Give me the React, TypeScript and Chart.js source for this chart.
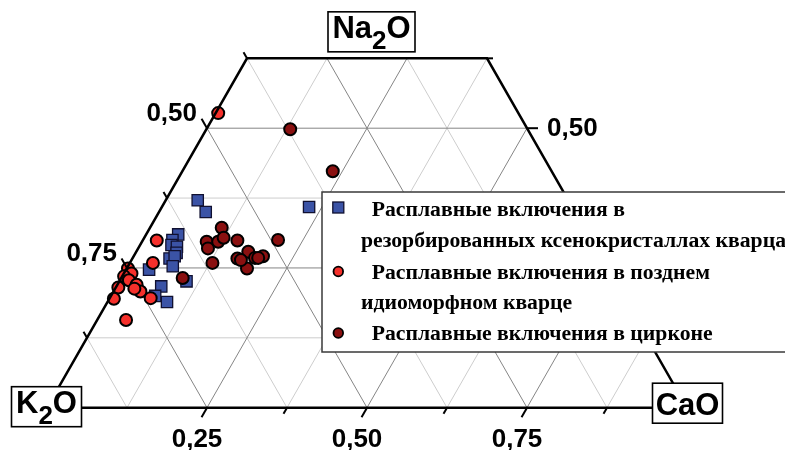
import React, { useEffect, useRef } from "react";
import { Chart, registerables } from "chart.js";

Chart.register(...registerables);

// ---- Data: oxide fractions (K2O + Na2O + CaO = 1) ----
// Melt inclusions in resorbed quartz xenocrysts (blue squares)
const resorbedK2O = [0.579, 0.577, 0.411, 0.64, 0.654, 0.66, 0.653, 0.659, 0.675, 0.665, 0.677, 0.717, 0.669, 0.713, 0.731, 0.718];
const resorbedNa2O = [0.371, 0.35, 0.359, 0.31, 0.3, 0.291, 0.288, 0.277, 0.267, 0.271, 0.253, 0.247, 0.226, 0.217, 0.2, 0.189];
const resorbedCaO = [0.05, 0.073, 0.23, 0.05, 0.046, 0.049, 0.059, 0.064, 0.058, 0.064, 0.07, 0.036, 0.105, 0.07, 0.069, 0.093];

// Melt inclusions in late idiomorphic quartz (red circles)
const lateK2O = [0.469, 0.679, 0.705, 0.749, 0.748, 0.762, 0.758, 0.75, 0.781, 0.75, 0.798, 0.74, 0.798, 0.757];
const lateNa2O = [0.527, 0.299, 0.259, 0.249, 0.24, 0.235, 0.228, 0.22, 0.215, 0.208, 0.195, 0.196, 0.157, 0.213];
const lateCaO = [0.004, 0.022, 0.036, 0.002, 0.012, 0.003, 0.014, 0.03, 0.004, 0.042, 0.007, 0.064, 0.045, 0.03];

// Melt inclusions in zircon (dark red circles)
const zirconK2O = [0.371, 0.342, 0.566, 0.602, 0.606, 0.584, 0.572, 0.553, 0.489, 0.612, 0.569, 0.546, 0.563, 0.541, 0.527, 0.536, 0.565, 0.672];
const zirconNa2O = [0.498, 0.423, 0.322, 0.297, 0.285, 0.297, 0.304, 0.299, 0.3, 0.259, 0.267, 0.279, 0.249, 0.268, 0.271, 0.268, 0.264, 0.232];
const zirconCaO = [0.131, 0.235, 0.112, 0.101, 0.109, 0.119, 0.124, 0.148, 0.211, 0.129, 0.164, 0.175, 0.188, 0.191, 0.202, 0.196, 0.171, 0.096];

const seriesNames = [
  ["Расплавные включения в", "резорбированных ксенокристаллах кварца"],
  ["Расплавные включения в позднем", "идиоморфном кварце"],
  ["Расплавные включения в цирконе"],
];

const gridSteps = [0.125, 0.25, 0.375, 0.5, 0.625, 0.75, 0.875];
const bottomTickSteps = [0.25, 0.375, 0.5, 0.625, 0.75, 0.875];
const topCut = 0.625; // Na2O level where the triangle is truncated
const bottomTickLabels = ["0,25", "0,50", "0,75"]; // CaO
const bottomTickValues = [0.25, 0.5, 0.75];
const leftTickLabels = ["0,75", "0,50"]; // K2O along left edge
const leftTickNa2O = [0.25, 0.5];
const rightTickLabels = ["0,50"]; // Na2O along right edge
const rightTickNa2O = [0.5];

const BLUE = "#3b53a6";
const RED = "#f5302b";
const DARK = "#8a1010";

function toXY(na: number[], ca: number[]) {
  return na.map((n, i) => ({ x: ca[i] + n / 2, y: n }));
}

const SANS = '"Liberation Sans", Arial, Helvetica, sans-serif';
const SERIF = '"Liberation Serif", "Times New Roman", serif';

const isMajor = (v: number) => Math.abs(v * 4 - Math.round(v * 4)) < 1e-6;

const ternaryPlugin = {
  id: "ternary",
  beforeDatasetsDraw(chart: any) {
    const { ctx } = chart;
    const xs = chart.scales.x;
    const ys = chart.scales.y;
    const P = (c: number, n: number) => [xs.getPixelForValue(c + n / 2), ys.getPixelForValue(n)];
    ctx.save();
    ctx.lineWidth = 1;
    const line = (a: number[], b: number[], major: boolean) => {
      ctx.strokeStyle = major ? "#858585" : "#cdcdcd";
      ctx.beginPath();
      ctx.moveTo(a[0], a[1]);
      ctx.lineTo(b[0], b[1]);
      ctx.stroke();
    };
    for (const pass of [false, true]) {
      for (const v of gridSteps) {
        if (isMajor(v) !== pass) continue;
        if (v < topCut) line(P(0, v), P(1 - v, v), pass);
        const nEnd = Math.min(1 - v, topCut);
        line(P(v, 0), P(v, nEnd), pass);
        const k = v;
        const nEnd2 = Math.min(1 - k, topCut);
        line(P(1 - k, 0), P(1 - k - nEnd2, nEnd2), pass);
      }
    }
    ctx.restore();
  },
  afterDatasetsDraw(chart: any) {
    const { ctx } = chart;
    const xs = chart.scales.x;
    const ys = chart.scales.y;
    const P = (c: number, n: number) => [xs.getPixelForValue(c + n / 2), ys.getPixelForValue(n)];
    ctx.save();

    const a0 = P(0, 0);
    const a1 = P(0, 1);
    let dx = a1[0] - a0[0];
    let dy = a1[1] - a0[1];
    const len = Math.hypot(dx, dy);
    dx /= len;
    dy /= len;

    ctx.strokeStyle = "#000";
    ctx.lineWidth = 2;
    ctx.lineCap = "butt";
    const tick = (p: number[], ux: number, uy: number, L: number) => {
      ctx.beginPath();
      ctx.moveTo(p[0], p[1]);
      ctx.lineTo(p[0] + ux * L, p[1] + uy * L);
      ctx.stroke();
    };
    const ticksN = [0.125, 0.25, 0.375, 0.5, 0.625];
    for (const c of bottomTickSteps) tick(P(c, 0), -dx, -dy, isMajor(c) ? 11 : 7);
    for (const n of ticksN) tick(P(0, n), -dx, dy, isMajor(n) ? 11 : 7);
    for (const n of ticksN) tick(P(1 - n, n), 1, 0, isMajor(n) ? 11 : 6);

    ctx.lineWidth = 2.5;
    ctx.lineJoin = "miter";
    ctx.beginPath();
    const v0 = P(0, 0);
    const v1 = P(0, topCut);
    const v2 = P(1 - topCut, topCut);
    const v3 = P(1, 0);
    ctx.moveTo(v0[0], v0[1]);
    ctx.lineTo(v1[0], v1[1]);
    ctx.lineTo(v2[0], v2[1]);
    ctx.lineTo(v3[0], v3[1]);
    ctx.closePath();
    ctx.stroke();

    ctx.fillStyle = "#000";
    ctx.font = `bold 26px ${SANS}`;
    ctx.textBaseline = "alphabetic";
    ctx.textAlign = "center";
    bottomTickValues.forEach((c, i) => {
      const p = P(c, 0);
      ctx.fillText(bottomTickLabels[i], p[0] - 10, p[1] + 39);
    });
    ctx.textAlign = "right";
    leftTickNa2O.forEach((n, i) => {
      const p = P(0, n);
      ctx.fillText(leftTickLabels[i], p[0] - 10, p[1] - 7);
    });
    ctx.textAlign = "left";
    rightTickNa2O.forEach((n, i) => {
      const p = P(1 - n, n);
      ctx.fillText(rightTickLabels[i], p[0] + 20, p[1] + 8);
    });

    const box = (cx: number, top: number, w: number, h: number, parts: [string, boolean][]) => {
      const left = cx - w / 2;
      ctx.fillStyle = "#fff";
      ctx.fillRect(left, top, w, h);
      ctx.strokeStyle = "#000";
      ctx.lineWidth = 1.6;
      ctx.strokeRect(left, top, w, h);
      const mainFont = `bold 31px ${SANS}`;
      const subFont = `bold 26px ${SANS}`;
      let total = 0;
      for (const [t, sub] of parts) {
        ctx.font = sub ? subFont : mainFont;
        total += ctx.measureText(t).width;
      }
      let x = cx - total / 2;
      const hasSub = parts.some((p) => p[1]);
      const base = hasSub ? top + 26.5 : top + h / 2 + 11.5;
      ctx.fillStyle = "#000";
      ctx.textAlign = "left";
      for (const [t, sub] of parts) {
        ctx.font = sub ? subFont : mainFont;
        ctx.fillText(t, x, sub ? base + 11 : base);
        x += ctx.measureText(t).width;
      }
    };
    const kV = P(0, 0);
    const cV = P(1, 0);
    const topMid = P(0.5 - topCut / 2, topCut);
    box(kV[0] - 0.5, kV[1] - 21, 70, 40, [["K", false], ["2", true], ["O", false]]);
    box(cV[0] + 0.5, cV[1] - 24.5, 70, 40, [["CaO", false]]);
    box(topMid[0] + 4.5, topMid[1] - 46.5, 87, 40, [["Na", false], ["2", true], ["O", false]]);

    const lx = 322;
    const ly = 192;
    ctx.fillStyle = "#fff";
    ctx.fillRect(lx, ly, 480, 160);
    ctx.strokeStyle = "#3a3a3a";
    ctx.lineWidth = 1.5;
    ctx.strokeRect(lx, ly, 480, 160);

    const mx = 338.3;
    ctx.fillStyle = BLUE;
    ctx.strokeStyle = "#101030";
    ctx.lineWidth = 1.3;
    ctx.fillRect(mx - 5.5, 207.5 - 5.5, 11, 11);
    ctx.strokeRect(mx - 5.5, 207.5 - 5.5, 11, 11);
    const circ = (y: number, col: string) => {
      ctx.beginPath();
      ctx.arc(mx, y, 4.8, 0, Math.PI * 2);
      ctx.fillStyle = col;
      ctx.fill();
      ctx.strokeStyle = "#000";
      ctx.lineWidth = 1.8;
      ctx.stroke();
    };
    circ(271.5, RED);
    circ(333, DARK);

    ctx.fillStyle = "#000";
    ctx.font = `bold 21.7px ${SERIF}`;
    ctx.textAlign = "left";
    ctx.fillText(seriesNames[0][0], 371.7, 215.5);
    ctx.fillText(seriesNames[0][1], 361, 247);
    ctx.fillText(seriesNames[1][0], 371.7, 279);
    ctx.fillText(seriesNames[1][1], 361, 309);
    ctx.fillText(seriesNames[2][0], 371.7, 340);

    ctx.restore();
  },
};

export default function App() {
  const ref = useRef<HTMLCanvasElement | null>(null);
  useEffect(() => {
    if (!ref.current) return;
    const chart = new Chart(ref.current, {
      type: "scatter",
      data: {
        datasets: [
          {
            label: seriesNames[0].join(" "),
            data: toXY(resorbedNa2O, resorbedCaO),
            pointStyle: "rect",
            pointRadius: 8,
            backgroundColor: BLUE,
            borderColor: "#101030",
            borderWidth: 1.3,
            order: 3,
            clip: false,
          } as any,
          {
            label: seriesNames[1].join(" "),
            data: toXY(lateNa2O, lateCaO),
            pointStyle: "circle",
            pointRadius: 6,
            backgroundColor: RED,
            borderColor: "#000",
            borderWidth: 2,
            order: 2,
            clip: false,
          } as any,
          {
            label: seriesNames[2].join(" "),
            data: toXY(zirconNa2O, zirconCaO),
            pointStyle: "circle",
            pointRadius: 6,
            backgroundColor: DARK,
            borderColor: "#000",
            borderWidth: 2,
            order: 1,
            clip: false,
          } as any,
        ],
      },
      options: {
        responsive: false,
        animation: false,
        events: [],
        layout: { padding: 0, autoPadding: false },
        plugins: { legend: { display: false }, tooltip: { enabled: false } },
        scales: {
          x: { type: "linear", display: false, min: -47 / 640, max: (785 - 47) / 640 },
          y: { type: "linear", display: false, min: (407.7 - 450) / 559, max: 407.7 / 559 },
        },
      },
      plugins: [ternaryPlugin],
    });
    return () => chart.destroy();
  }, []);
  return (
    <div style={{ position: "fixed", left: 0, top: 0, width: 785, height: 450, background: "#fff" }}>
      <canvas ref={ref} width={785} height={450} style={{ display: "block" }} />
    </div>
  );
}
